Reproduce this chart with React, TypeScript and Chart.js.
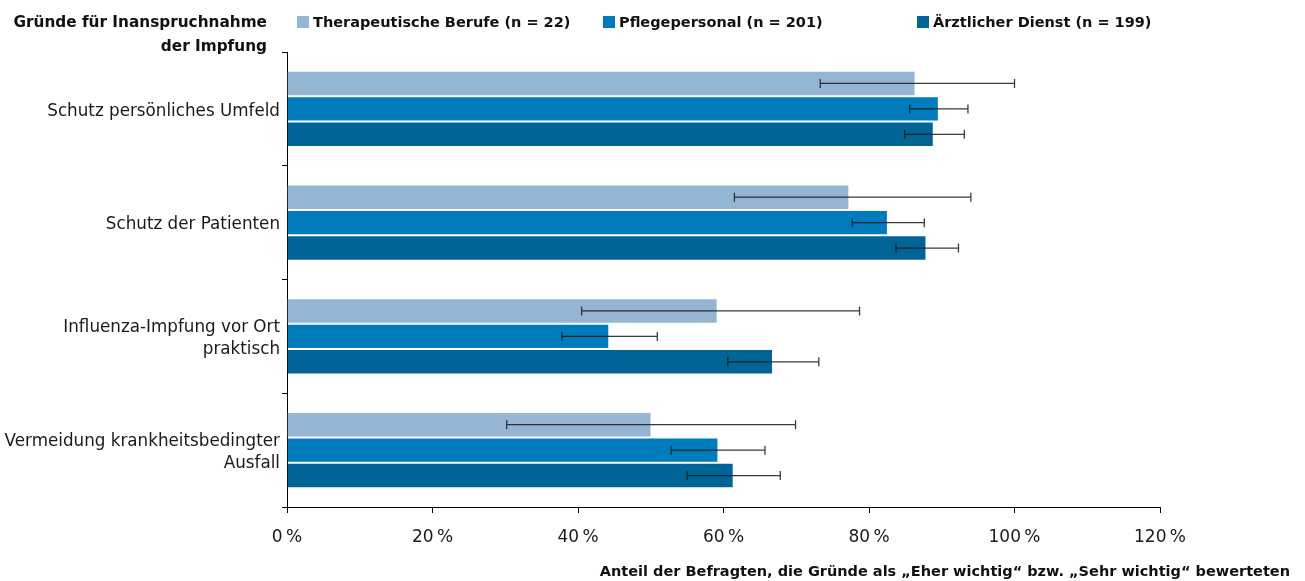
import React, { useEffect, useRef } from 'react';
import { Chart, registerables } from 'chart.js';

Chart.register(...registerables);

const categories: string[][] = [
  ['Schutz persönliches Umfeld'],
  ['Schutz der Patienten'],
  ['Influenza-Impfung vor Ort', 'praktisch'],
  ['Vermeidung krankheitsbedingter', 'Ausfall'],
];

const seriesNames = ['Therapeutische Berufe (n = 22)', 'Pflegepersonal (n = 201)', 'Ärztlicher Dienst (n = 199)'];
const seriesColors = ['#95b5d5', '#007bbb', '#006497'];

const therapeutic = [86.4, 77.3, 59.2, 50.1];
const therapeuticLow = [73.3, 61.5, 40.5, 30.2];
const therapeuticHigh = [100.0, 94.0, 78.7, 69.9];

const nursing = [89.6, 82.6, 44.3, 59.3];
const nursingLow = [85.6, 77.7, 37.8, 52.8];
const nursingHigh = [93.6, 87.6, 50.9, 65.7];

const medical = [88.9, 87.9, 66.8, 61.4];
const medicalLow = [84.9, 83.7, 60.6, 55.0];
const medicalHigh = [93.1, 92.3, 73.1, 67.8];

const xTickLabels = ['0\u202F%', '20\u202F%', '40\u202F%', '60\u202F%', '80\u202F%', '100\u202F%', '120\u202F%'];

const axisTitle = 'Anteil der Befragten, die Gründe als „Eher wichtig“ bzw. „Sehr wichtig“ bewerteten';
const cornerTitle = ['Gründe für Inanspruchnahme', 'der Impfung'];

const FONT = '"DejaVu Sans", sans-serif';

const lows = [therapeuticLow, nursingLow, medicalLow];
const highs = [therapeuticHigh, nursingHigh, medicalHigh];

const errorBarPlugin = {
  id: 'errorBars',
  afterDatasetsDraw(chart: any) {
    const ctx = chart.ctx;
    const xScale = chart.scales.x;
    ctx.save();
    chart.data.datasets.forEach((_: any, di: number) => {
      const meta = chart.getDatasetMeta(di);
      meta.data.forEach((el: any, j: number) => {
        const y = el.y;
        const x1 = xScale.getPixelForValue(lows[di][j]);
        const x2 = xScale.getPixelForValue(highs[di][j]);
        ctx.strokeStyle = 'rgba(25,25,25,0.85)';
        ctx.lineWidth = 1.3;
        ctx.beginPath();
        ctx.moveTo(x1, y);
        ctx.lineTo(x2, y);
        ctx.moveTo(x1, y - 4.5);
        ctx.lineTo(x1, y + 4.5);
        ctx.moveTo(x2, y - 4.5);
        ctx.lineTo(x2, y + 4.5);
        ctx.stroke();
      });
    });
    ctx.restore();
  },
};

export default function App() {
  const ref = useRef<HTMLCanvasElement>(null);

  useEffect(() => {
    document.body.style.margin = '0';
    if (!ref.current) return;
    const data = [therapeutic, nursing, medical];
    const chart = new Chart(ref.current, {
      type: 'bar',
      data: {
        labels: categories,
        datasets: data.map((d, i) => ({
          label: seriesNames[i],
          data: d,
          backgroundColor: seriesColors[i],
          borderColor: 'rgba(255,255,255,0.3)',
          borderWidth: 1,
          categoryPercentage: 0.67,
          barPercentage: 1,
        })),
      },
      options: {
        indexAxis: 'y',
        responsive: false,
        animation: false,
        layout: { padding: { top: 44, right: 137, left: 0, bottom: 0 } },
        plugins: {
          legend: { display: false },
          tooltip: { enabled: false },
        },
        scales: {
          x: {
            min: 0,
            max: 120,
            afterFit: (s: any) => { s.height = 66; },
            ticks: {
              stepSize: 20,
              padding: 14,
              color: '#1a1a1a',
              font: { family: FONT, size: 17 },
              callback: (_v: any, i: number) => xTickLabels[i],
            },
            grid: { drawOnChartArea: false, tickLength: 6, color: '#000' },
            border: { color: '#000', width: 1 },
          },
          y: {
            afterFit: (s: any) => { s.width = 287; },
            ticks: {
              padding: 2,
              labelOffset: 2.5,
              color: '#1a1a1a',
              font: { family: FONT, size: 16.75, lineHeight: 1.32 },
            },
            grid: { drawOnChartArea: false, tickLength: 5, color: '#000', offset: true },
            border: { color: '#000', width: 1 },
          },
        },
      },
      plugins: [errorBarPlugin],
    });
    return () => chart.destroy();
  }, []);

  const legendX = [297, 603, 917];

  return (
    <div style={{ position: 'relative', width: 1305, height: 581, overflow: 'hidden', fontFamily: FONT, color: '#111', background: '#fff' }}>
      <canvas ref={ref} width={1297} height={565} style={{ display: 'block', position: 'absolute', left: 0, top: 8 }} />
      <div style={{ position: 'absolute', left: 0, top: 10, width: 267, textAlign: 'right', fontWeight: 700, fontSize: 15.3, lineHeight: '24px' }}>
        {cornerTitle.map((t) => <div key={t}>{t}</div>)}
      </div>
      {seriesNames.map((n, i) => (
        <div key={n} style={{ position: 'absolute', left: legendX[i], top: 10, height: 24, display: 'flex', alignItems: 'center', fontWeight: 700, fontSize: 14.5, whiteSpace: 'nowrap' }}>
          <span style={{ display: 'inline-block', width: 12, height: 12, background: seriesColors[i], marginRight: 4 }} />
          {n}
        </div>
      ))}
      <div style={{ position: 'absolute', right: 15, top: 561, fontWeight: 700, fontSize: 14.5, lineHeight: '20px', whiteSpace: 'nowrap' }}>
        {axisTitle}
      </div>
    </div>
  );
}
